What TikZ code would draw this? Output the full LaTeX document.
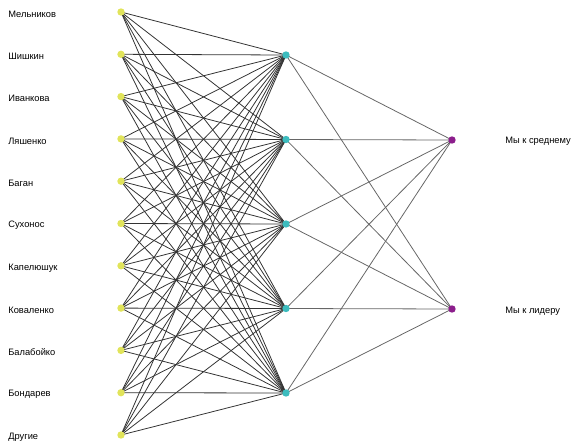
\documentclass[tikz,border=0pt]{standalone}
\usepackage{fontspec}
\setmainfont{Liberation Sans}
\usetikzlibrary{backgrounds}
\definecolor{inyel}{RGB}{225,228,90}
\definecolor{hidcy}{RGB}{60,188,190}
\definecolor{outpu}{RGB}{140,30,140}

\begin{document}
\begin{tikzpicture}[
      x=0.02cm, y=-0.02cm,
      font=\fontsize{5.3}{6}\selectfont,
      dot/.style={circle, inner sep=0pt, minimum size=4.2pt},
      inp/.style={dot, fill=inyel},
      hid/.style={dot, fill=hidcy},
      outp/.style={dot, fill=outpu},
      lbl/.style={anchor=west, inner sep=0pt},
      wire/.style={draw=black!80, line width=0.45pt},
      wout/.style={draw=black!60, line width=0.45pt}
    ]
    \useasboundingbox (0,0) rectangle (576,447);
    % input layer
    \foreach \name [count=\i] in {Мельников, Шишкин, Иванкова, Ляшенко, Баган, Сухонос,
        Капелюшук, Коваленко, Балабойко, Бондарев, Другие} {
      \node[inp] (in\i) at (121, {12+(\i-1)*42.3}) {};
      \node[lbl] (lin\i) at (8, {14+(\i-1)*42.3}) {\name};
    }
    % hidden layer
    \foreach \j in {1,...,5}
      \node[hid] (h\j) at (286, {55+(\j-1)*84.5}) {};
    % output layer
    \node[outp] (o1) at (452, 140) {};
    \node[outp] (o2) at (452, 309) {};
    \node[lbl] (lo1) at (505, 141) {Мы к среднему};
    \node[lbl] (lo2) at (505, 311) {Мы к лидеру};
    \begin{scope}[on background layer]
      \foreach \i in {1,...,11}
        \foreach \j in {1,...,5}
          \draw[wire] (in\i.center) -- (h\j.center);
      \foreach \j in {1,...,5}
        \foreach \k in {1,2}
          \draw[wout] (h\j.center) -- (o\k.center);
    \end{scope}
  \end{tikzpicture}
\end{document}
